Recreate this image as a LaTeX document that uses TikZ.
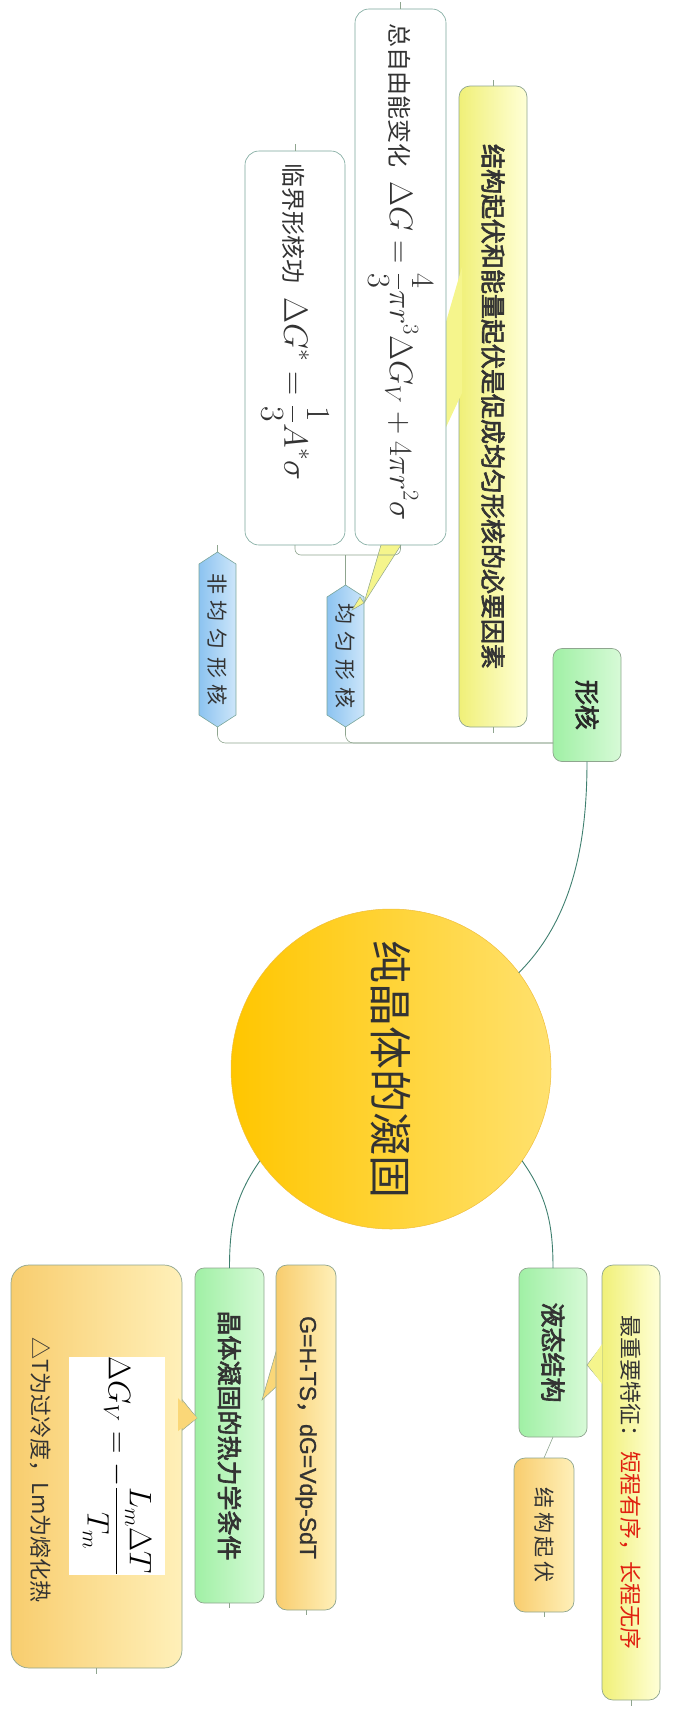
\documentclass[tikz,border=0pt]{standalone}
\usepackage{fontspec}
\usepackage{amsmath}
\usepackage{graphicx}
\setsansfont{Liberation Sans}
\newfontfamily\cjk{Noto Sans CJK SC}
\newfontfamily\cjkb[FakeBold=2.5]{Noto Sans CJK SC}
\newfontfamily\arb[FakeBold=1]{Liberation Sans}
\definecolor{conn}{HTML}{3F7F6F}
\definecolor{bord}{HTML}{8FA58F}
\definecolor{txt}{HTML}{333333}
\definecolor{redt}{HTML}{E02010}
\tikzset{
  every node/.style={inner sep=0pt,outer sep=0pt},
  conn/.style={draw=conn,line width=0.9pt},
  tick/.style={draw=bord,line width=0.6pt},
  greenbox/.style={draw=bord,rounded corners=9pt,left color={rgb,255:red,160;green,240;blue,165},right color={rgb,255:red,215;green,250;blue,215},line width=0.7pt},
  notebox/.style={draw=bord,rounded corners=11pt,left color={rgb,255:red,240;green,240;blue,120},right color={rgb,255:red,255;green,255;blue,215},line width=0.7pt},
  orangebox/.style={draw=bord,rounded corners=11pt,left color={rgb,255:red,248;green,205;blue,110},right color={rgb,255:red,255;green,240;blue,185},line width=0.7pt},
  whitebox/.style={draw=conn!70,rounded corners=14pt,fill=white,line width=0.6pt},
  bluebox/.style={draw=conn!70,left color={rgb,255:red,140;green,195;blue,240},right color={rgb,255:red,205;green,230;blue,250},line width=0.6pt},
  notefill/.style={fill={rgb,255:red,245;green,245;blue,140},draw=bord,line width=0.5pt},
  orangefill/.style={fill={rgb,255:red,250;green,215;blue,120},draw=bord,line width=0.5pt},
}
\begin{document}
\begin{tikzpicture}[x=1pt,y=-1pt]
\useasboundingbox (0,0) rectangle (672,1710);
\node[circle,minimum size=320pt,left color={rgb,255:red,255;green,198;blue,0},right color={rgb,255:red,255;green,225;blue,110},draw={rgb,255:red,240;green,190;blue,60},line width=0.5pt] (root) at (391,1069) {};
\node at (root.center) {\rotatebox{-90}{\cjk\fontsize{43}{45}\selectfont\color{txt}纯晶体的凝固}};
% top branch
\node[greenbox,minimum width=68pt,minimum height=113pt] (xh) at (587,705) {\rotatebox{-90}{\cjkb\fontsize{25}{28}\selectfont\color{txt!80!black}形核}};
\node[notebox,minimum width=68pt,minimum height=641pt] (note) at (493,406.5) {\rotatebox{-90}{\cjkb\fontsize{25}{28}\selectfont\color{txt}结构起伏和能量起伏是促成均匀形核的必要因素}};
\fill[notefill,draw=none] (462,267) -- (364,603) -- (462,393) -- cycle;
\node[whitebox,minimum width=91pt,minimum height=536pt] (zg) at (400.5,277) {};
\node[whitebox,minimum width=100pt,minimum height=394pt] (lj) at (295,348) {};
\fill[notefill] (381,545) -- (364,603) -- (401,545) -- cycle;
\node at (400.5,272) {\rotatebox{-90}{\color{txt}\cjk\fontsize{24}{28}\selectfont 总自由能变化\hspace{14pt}\scalebox{1.3}{$\displaystyle\Delta G=\frac{4}{3}\pi r^{3}\Delta G_{V}+4\pi r^{2}\sigma$}}};
\node at (295,322) {\rotatebox{-90}{\color{txt}\cjk\fontsize{24}{28}\selectfont 临界形核功\hspace{14pt}\scalebox{1.35}{$\displaystyle\Delta G^{*}=\frac{1}{3}A^{*}\sigma$}}};
% blue nodes
\path[bluebox] (327,597) -- (345.5,585) -- (364,597) -- (364,715) -- (345.5,727) -- (327,715) -- cycle;
\node[minimum width=37pt,minimum height=142pt] (uni) at (345.5,656) {\rotatebox{-90}{\cjk\fontsize{21}{24}\selectfont\color{txt}均\,\,匀\,\,形\,\,核}};
\path[bluebox] (199,564) -- (217.5,552) -- (236,564) -- (236,715) -- (217.5,727) -- (199,715) -- cycle;
\node[minimum width=37pt,minimum height=175pt] (non) at (217.5,639.5) {\rotatebox{-90}{\cjk\fontsize{21}{24}\selectfont\color{txt}非\,\,均\,\,匀\,\,形\,\,核}};
\fill[notefill] (360,597) -- (364,603) -- (352,610) -- cycle;
% connectors top
\draw[conn] (xh.south) to[out=-90,in=45,looseness=0.9] (root.37);
\draw[tick,rounded corners=8pt] ([yshift=-38pt]xh.west) -| (uni.south);
\draw[tick,rounded corners=8pt] ([yshift=-38pt]xh.west) -| (non.south);
\coordinate (br) at (345.5,555);
\draw[tick] (uni.north) -- (br);
\draw[tick,rounded corners=6pt] (br) -| (lj.south);
\draw[tick,rounded corners=6pt] (br) -| (zg.south);
\draw[tick] (zg.north) -- ++(0,-7);
\draw[tick] (lj.north) -- ++(0,-7);
\draw[tick] (note.north) -- ++(0,-6);
\draw[tick] (non.north) -- ++(0,-7);
\draw[tick] (note.south) -- ++(0,6);
% bottom left
\node[greenbox,minimum width=69pt,minimum height=335pt] (jt) at (229.5,1435.5) {\rotatebox{-90}{\cjkb\fontsize{25}{28}\selectfont\color{txt}晶体凝固的热力学条件}};
\fill[orangefill] (278,1345) -- (262,1400) -- (278,1385) -- cycle;
\node[orangebox,minimum width=60pt,minimum height=345pt] (gh) at (306,1437.5) {\rotatebox{-90}{\arb\fontsize{23}{26}\selectfont\color{txt}G=H-TS{\cjkb ，}dG=Vdp-SdT}};
\fill[orangefill] (180,1397) -- (197,1418) -- (180,1432) -- cycle;
\node[orangebox,rounded corners=18pt,minimum width=171pt,minimum height=403pt] (dt) at (96.5,1466.5) {};
\fill[orangefill,draw=none] (178,1398) -- (197,1418) -- (178,1431) -- cycle;
\node[fill=white,minimum width=96pt,minimum height=218pt] (fm) at (117,1466) {\rotatebox{-90}{\scalebox{1.25}{\fontsize{24}{28}\selectfont$\displaystyle\Delta G_{V}=-\frac{L_{m}\Delta T}{T_{m}}$}}};
\node at (41,1470) {\rotatebox{-90}{\cjk\fontsize{22}{26}\selectfont\color{txt}△T为过冷度，Lm为熔化热}};
\draw[conn] (root.215) to[out=-125,in=90] (jt.north);
\draw[tick] (jt.south) -- ++(0,5);
\draw[tick] (gh.south) -- ++(0,5);
\draw[tick] (dt.south) -- ++(0,6);
% bottom right
\node[greenbox,minimum width=68pt,minimum height=169pt] (yt) at (553,1352.5) {\rotatebox{-90}{\cjkb\fontsize{25}{28}\selectfont\color{txt}液态结构}};
\node[orangebox,minimum width=60pt,minimum height=154pt] (jg) at (544,1535) {\rotatebox{-90}{\cjk\fontsize{21}{24}\selectfont\color{txt}结\,构\,起\,伏}};
\fill[notefill] (604,1343) -- (587,1365) -- (604,1385) -- cycle;
\node[notebox,minimum width=58pt,minimum height=435pt] (zy) at (631,1482.5) {\rotatebox{-90}{\cjk\fontsize{22}{26}\selectfont\color{txt}最重要特征：\,{\color{redt}短程有序，长程无序}}};
\fill[notefill,draw=none] (602,1344) -- (588,1365) -- (602,1384) -- cycle;
\draw[conn] (root.325) to[out=-55,in=90] (yt.north);
\draw[tick] (yt.south) -- (jg.north);
\draw[tick] (jg.south) -- ++(0,5);
\draw[tick] (zy.south) -- ++(0,6);
\end{tikzpicture}
\end{document}
